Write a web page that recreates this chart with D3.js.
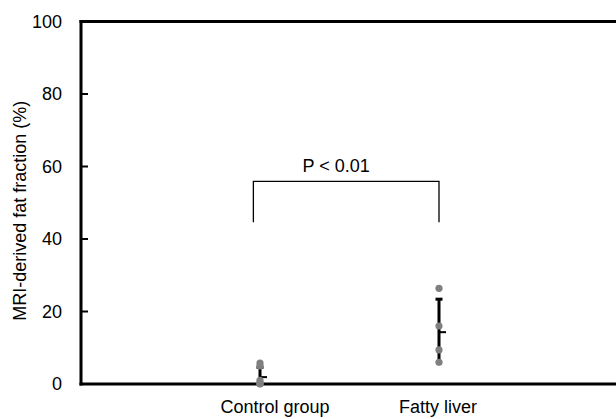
<!DOCTYPE html>
<html>
<head>
<meta charset="utf-8">
<script src="https://cdn.jsdelivr.net/npm/d3@7"></script>
<style>
  html, body { margin: 0; padding: 0; background: #fff; }
  svg { display: block; font-family: "Liberation Sans", Arial, sans-serif; }
</style>
</head>
<body>
<svg id="chart" width="616" height="419"></svg>
<script>
// ---- data ----
const categories = ["Control group", "Fatty liver"];
const controlValues = [5.8, 5.0, 1.0, 0.3, 0.1, 0.0];
const fattyValues = [26.4, 16.0, 9.4, 6.0];
const groupMeans = [1.9, 14.3];
const groupSDs = [2.7, 9.1];
const yTicks = [0, 20, 40, 60, 80, 100];
const yTitle = "MRI-derived fat fraction (%)";
const pLabel = "P < 0.01";

const svg = d3.select("#chart");
const x = d3.scaleLinear().domain([0, 3]).range([81, 618]);
const y = d3.scaleLinear().domain([0, 100]).range([384, 21.5]);

const groups = [controlValues, fattyValues];

// y ticks (inside)
const yAxis = d3.axisLeft(y).tickValues(yTicks).tickSize(0).tickPadding(19);
const gy = svg.append("g").attr("transform", "translate(81,0)").call(yAxis);
gy.select(".domain").remove();
gy.selectAll("text").attr("font-size", 18).attr("fill", "#000")
  .attr("font-family", "Liberation Sans, Arial, sans-serif");
svg.append("g").selectAll("line").data(yTicks.filter(d => d > 0 && d < 100)).join("line")
  .attr("x1", 81).attr("x2", 88).attr("y1", d => y(d)).attr("y2", d => y(d))
  .attr("stroke", "#000").attr("stroke-width", 2);

// frame: left, top, bottom
svg.append("line").attr("x1", x(0)).attr("x2", x(0)).attr("y1", y(100) - 1.5).attr("y2", y(0) + 1.5)
  .attr("stroke", "#000").attr("stroke-width", 3);
svg.append("line").attr("x1", x(0) - 1.5).attr("x2", 616).attr("y1", y(100)).attr("y2", y(100))
  .attr("stroke", "#000").attr("stroke-width", 3);
svg.append("line").attr("x1", x(0) - 1.5).attr("x2", 616).attr("y1", y(0)).attr("y2", y(0))
  .attr("stroke", "#000").attr("stroke-width", 3);

// y title
svg.append("text").attr("transform", `translate(26,${(y(0) + y(100)) / 2 + 8}) rotate(-90)`)
  .attr("text-anchor", "middle").attr("font-size", 18).text(yTitle);

// category labels
const labelOffsets = [15, -1];
svg.append("g").selectAll("text").data(categories).join("text")
  .attr("x", (d, i) => x(i + 1) + labelOffsets[i]).attr("y", 413)
  .attr("text-anchor", "middle").attr("font-size", 18).text(d => d);

// error bars (mean ± SD)
const eb = svg.append("g");
groups.forEach((vals, i) => {
  const cx = x(i + 1);
  const lo = Math.max(0, groupMeans[i] - groupSDs[i]);
  const hi = groupMeans[i] + groupSDs[i];
  eb.append("line").attr("x1", cx).attr("x2", cx).attr("y1", y(hi)).attr("y2", y(lo))
    .attr("stroke", "#000").attr("stroke-width", 3);
  eb.append("line").attr("x1", cx - 3.5).attr("x2", cx + 3.5).attr("y1", y(hi)).attr("y2", y(hi))
    .attr("stroke", "#000").attr("stroke-width", 3);
  eb.append("line").attr("x1", cx).attr("x2", cx + 7).attr("y1", y(groupMeans[i])).attr("y2", y(groupMeans[i]))
    .attr("stroke", "#000").attr("stroke-width", 2);
});

// dots
groups.forEach((vals, i) => {
  svg.append("g").selectAll("circle").data(vals).join("circle")
    .attr("cx", x(i + 1)).attr("cy", d => y(d)).attr("r", 3.6).attr("fill", "#808080");
});

// significance bracket
const bx1 = x(0.963), bx2 = x(2.0), byTop = y(55.9), byBot = y(44.6);
svg.append("path")
  .attr("d", `M${bx1},${byBot}V${byTop}H${bx2}V${byBot}`)
  .attr("fill", "none").attr("stroke", "#000").attr("stroke-width", 1.3);
svg.append("text").attr("x", (bx1 + bx2) / 2 - 10).attr("y", 172)
  .attr("text-anchor", "middle").attr("font-size", 18).text(pLabel);
</script>
</body>
</html>
